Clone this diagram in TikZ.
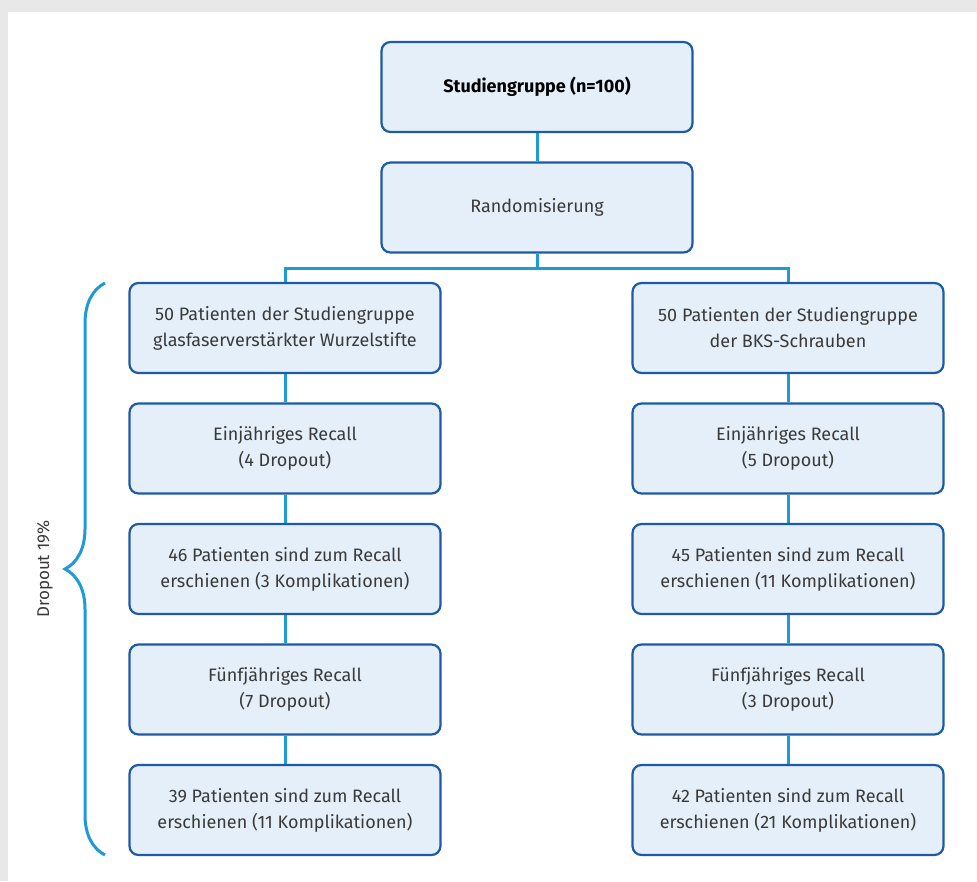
\documentclass[tikz,border=0pt]{standalone}
\usepackage{fontspec}
\setmainfont{Fira Sans}
\usetikzlibrary{positioning,decorations.pathreplacing}
\definecolor{boxfill}{HTML}{E4EFF9}
\definecolor{boxline}{HTML}{1D5BA6}
\definecolor{linkblue}{HTML}{1E9AD8}
\definecolor{txt}{HTML}{3A3A3A}

\begin{document}
\begin{tikzpicture}[x=1pt,y=1pt,node distance=120.5pt and 503pt,on grid,
  box/.style={draw=boxline,fill=boxfill,line width=2.2pt,rounded corners=9pt,
    minimum width=311pt,minimum height=90pt,align=center,text=txt,
    font=\fontsize{18}{26}\selectfont},
  link/.style={draw=linkblue,line width=3pt}]
 % page and scan shadow
 \fill[black!9] (0,0) rectangle (977,-881);
 \fill[white] (8,-12) rectangle (977,-881);
 \useasboundingbox (0,0) rectangle (977,-881);
 \node[box,text=black,font=\fontsize{18}{26}\selectfont\bfseries] (gruppe) at (537,-87) {Studiengruppe (n=100)};
 \node[box] (rand)[below=of gruppe] {Randomisierung};
 \node[box] (l1) at (285,-328) {50 Patienten der Studiengruppe\\glasfaserverstärkter Wurzelstifte};
 \node[box] (l2)[below=of l1] {Einjähriges Recall\\(4 Dropout)};
 \node[box] (l3)[below=of l2] {46 Patienten sind zum Recall\\erschienen (3 Komplikationen)};
 \node[box] (l4)[below=of l3] {Fünfjähriges Recall\\(7 Dropout)};
 \node[box] (l5)[below=of l4] {39 Patienten sind zum Recall\\erschienen (11 Komplikationen)};
 \node[box] (r1)[right=of l1] {50 Patienten der Studiengruppe\\der BKS-Schrauben};
 \node[box] (r2)[right=of l2] {Einjähriges Recall\\(5 Dropout)};
 \node[box] (r3)[right=of l3] {45 Patienten sind zum Recall\\erschienen (11 Komplikationen)};
 \node[box] (r4)[right=of l4] {Fünfjähriges Recall\\(3 Dropout)};
 \node[box] (r5)[right=of l5] {42 Patienten sind zum Recall\\erschienen (21 Komplikationen)};
 \coordinate (split) at (537,-268);
 \path[link]
 (gruppe) -- (rand)
 (rand) -- (split)
 (split) -| (l1)
 (split) -| (r1)
 (l1) -- (l2) (l2) -- (l3) (l3) -- (l4) (l4) -- (l5)
 (r1) -- (r2) (r2) -- (r3) (r3) -- (r4) (r4) -- (r5);
 % dropout brace
 \coordinate (bracebot) at (105,-855);
 \coordinate (bracetop) at (105,-283);
 \draw[linkblue,line width=3pt,decorate,decoration={brace,amplitude=40pt}] (bracebot) -- (bracetop);
 \node[rotate=90,text=txt,font=\fontsize{17}{20}\selectfont] (dropout) at (45,-569) {Dropout 19\%};
\end{tikzpicture}
\end{document}
